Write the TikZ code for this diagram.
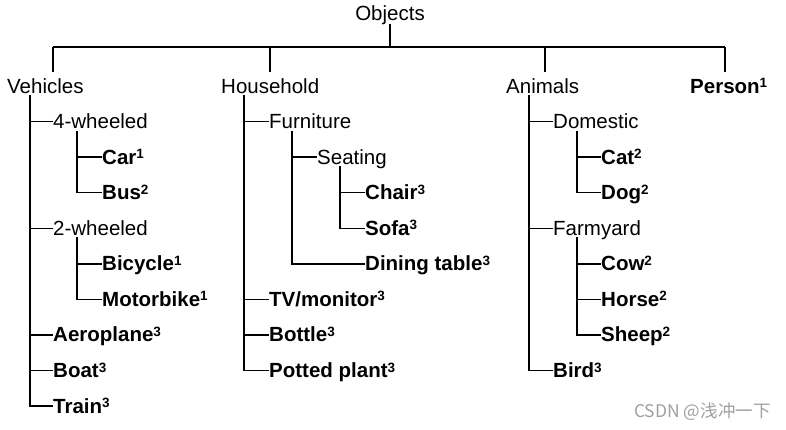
\documentclass[tikz,border=0pt]{standalone}
\usepackage{fontspec}
\setmainfont{Liberation Sans}
\newfontfamily\cjkfont{Noto Sans CJK SC}
\newcommand\supnum[1]{\raisebox{5.4pt}{\fontsize{13.5}{13.5}\selectfont\bfseries #1}}
\definecolor{wmgray}{HTML}{A0A0A0}
\begin{document}
\begin{tikzpicture}[x=1pt,y=-1pt,
  lbl/.style={inner sep=0pt,anchor=west,text height=16pt,text depth=2pt,
    font=\fontsize{20.5}{24}\selectfont},
  cls/.style={lbl,font=\fontsize{20.5}{24}\selectfont\bfseries},
  conn/.style={line width=1.4pt,black}]
\useasboundingbox (0,0) rectangle (786,429);
% rows
\def\ra{86}\def\rb{121.6}\def\rc{157.1}\def\rd{192.7}\def\re{228.2}
\def\rf{263.8}\def\rg{299.3}\def\rh{334.9}\def\ri{370.4}\def\rj{406}
% root
\node[lbl,anchor=center] (obj) at (390,13.5) {Objects};
\coordinate (dv) at (53,47);
\coordinate (dh) at (270,47);
\coordinate (da) at (545,47);
\coordinate (dp) at (725,47);
% top level
\node[lbl] (veh) at (7,\ra) {Vehicles};
\node[lbl] (hh) at (221,\ra) {Household};
\node[lbl] (ani) at (506,\ra) {Animals};
\node[cls] (per) at (690,\ra) {Person\supnum{1}};
% vehicles
\node[lbl] (w4) at (53,\rb) {4-wheeled};
\node[cls] (car) at (102,\rc) {Car\supnum{1}};
\node[cls] (bus) at (102,\rd) {Bus\supnum{2}};
\node[lbl] (w2) at (53,\re) {2-wheeled};
\node[cls] (bic) at (102,\rf) {Bicycle\supnum{1}};
\node[cls] (mot) at (102,\rg) {Motorbike\supnum{1}};
\node[cls] (aer) at (53,\rh) {Aeroplane\supnum{3}};
\node[cls] (boat) at (53,\ri) {Boat\supnum{3}};
\node[cls] (train) at (53,\rj) {Train\supnum{3}};
% household
\node[lbl] (furn) at (269,\rb) {Furniture};
\node[lbl] (seat) at (317,\rc) {Seating};
\node[cls] (chair) at (365,\rd) {Chair\supnum{3}};
\node[cls] (sofa) at (365,\re) {Sofa\supnum{3}};
\node[cls] (dining) at (365,\rf) {Dining table\supnum{3}};
\node[cls] (tv) at (269,\rg) {TV/monitor\supnum{3}};
\node[cls] (bottle) at (269,\rh) {Bottle\supnum{3}};
\node[cls] (potted) at (269,\ri) {Potted plant\supnum{3}};
% animals
\node[lbl] (dom) at (553,\rb) {Domestic};
\node[cls] (cat) at (601,\rc) {Cat\supnum{2}};
\node[cls] (dog) at (601,\rd) {Dog\supnum{2}};
\node[lbl] (farm) at (553,\re) {Farmyard};
\node[cls] (cow) at (601,\rf) {Cow\supnum{2}};
\node[cls] (horse) at (601,\rg) {Horse\supnum{2}};
\node[cls] (sheep) at (601,\rh) {Sheep\supnum{2}};
\node[cls] (bird) at (553,\ri) {Bird\supnum{3}};
% watermark
\node[inner sep=0pt,anchor=west,text=wmgray,font=\cjkfont\fontsize{17.5}{20}\selectfont] (wm) at (634,412) {CSDN @浅冲一下};
% column coordinates
\coordinate (xveh) at ([xshift=23pt]veh.south west);
\coordinate (xw4) at ([xshift=24pt]w4.south west);
\coordinate (xw2) at ([xshift=24pt]w2.south west);
\coordinate (xhh) at ([xshift=23pt]hh.south west);
\coordinate (xfurn) at ([xshift=23pt]furn.south west);
\coordinate (xseat) at ([xshift=23pt]seat.south west);
\coordinate (xani) at ([xshift=23pt]ani.south west);
\coordinate (xdom) at ([xshift=24pt]dom.south west);
\coordinate (xfarm) at ([xshift=24pt]farm.south west);
% top connectors
\draw[conn] ([yshift=-1pt]obj.south) -- (obj.south |- dv);
\draw[conn] (dv) -- (dp);
\draw[conn] (dv) -- ++(0,25);
\draw[conn] (dh) -- ++(0,25);
\draw[conn] (da) -- ++(0,25);
\draw[conn] (dp) -- ++(0,25);
% vehicles tree
\draw[conn] (xveh) |- (train.west);
\foreach \c in {w4,w2,aer,boat}
  \draw[conn] (\c.west -| xveh) -- (\c.west);
\draw[conn] (xw4) |- (bus.west);
\draw[conn] (car.west -| xw4) -- (car.west);
\draw[conn] (xw2) |- (mot.west);
\draw[conn] (bic.west -| xw2) -- (bic.west);
% household tree
\draw[conn] (xhh) |- (potted.west);
\foreach \c in {furn,tv,bottle}
  \draw[conn] (\c.west -| xhh) -- (\c.west);
\draw[conn] (xfurn) |- (dining.west);
\draw[conn] (seat.west -| xfurn) -- (seat.west);
\draw[conn] (xseat) |- (sofa.west);
\draw[conn] (chair.west -| xseat) -- (chair.west);
% animals tree
\draw[conn] (xani) |- (bird.west);
\foreach \c in {dom,farm}
  \draw[conn] (\c.west -| xani) -- (\c.west);
\draw[conn] (xdom) |- (dog.west);
\draw[conn] (cat.west -| xdom) -- (cat.west);
\draw[conn] (xfarm) |- (sheep.west);
\foreach \c in {cow,horse}
  \draw[conn] (\c.west -| xfarm) -- (\c.west);
\end{tikzpicture}
\end{document}
